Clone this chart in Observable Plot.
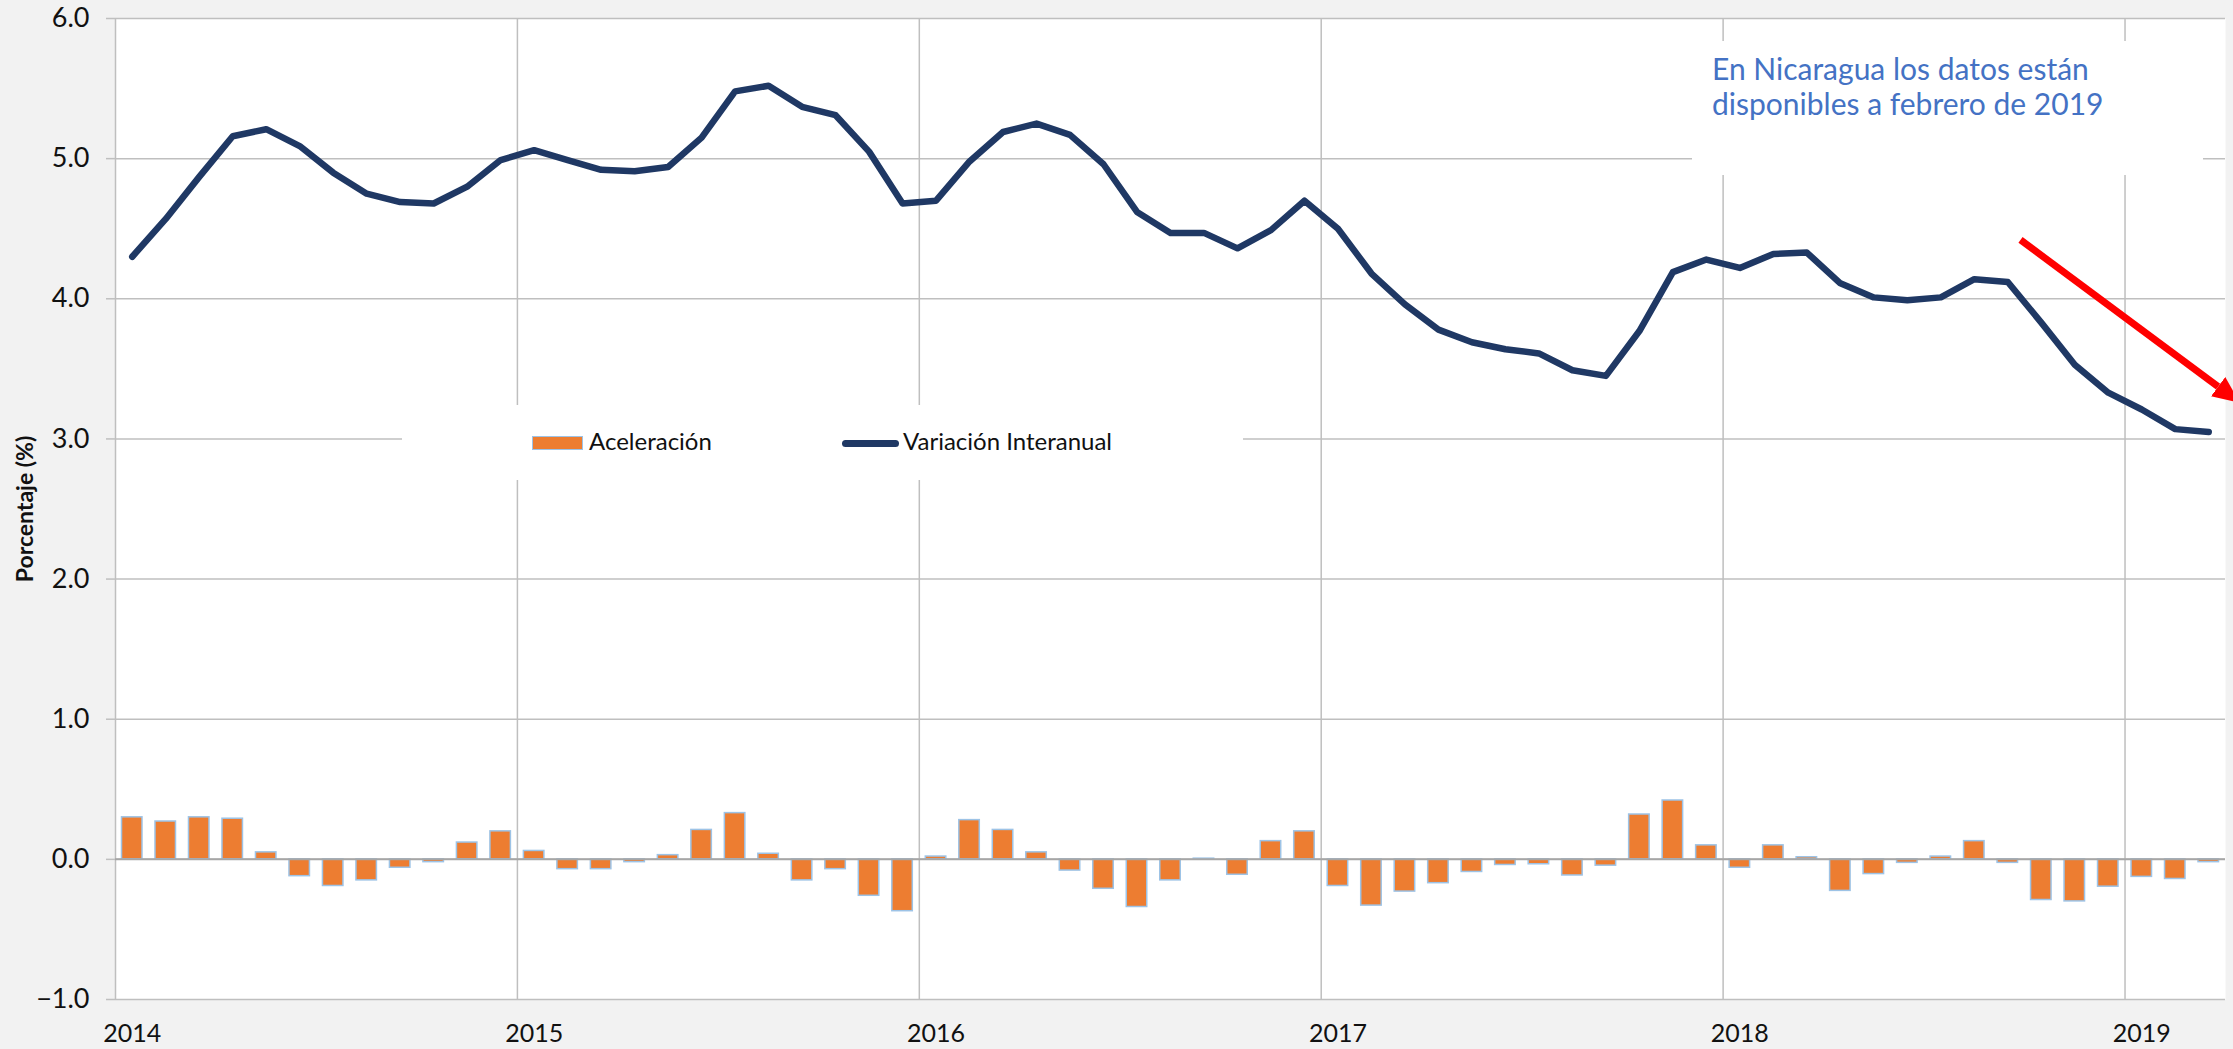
<!DOCTYPE html>
<html>
<head>
<meta charset="utf-8">
<script src="https://cdn.jsdelivr.net/npm/d3@7"></script>
<script src="https://cdn.jsdelivr.net/npm/@observablehq/plot@0.6"></script>
<style>
  html, body { margin: 0; padding: 0; background: #f2f2f2; }
  #wrap { position: relative; width: 2233px; height: 1049px; overflow: hidden; font-family: Lato, "Noto Sans", sans-serif; }
  #chart svg { display: block; }
  #legend { position: absolute; left: 402px; top: 405px; width: 841px; height: 75px; background: #fff; }
  #legend .sw-bar { position: absolute; left: 130px; top: 31px; width: 49px; height: 12px; background: #ed7d31; border: 1.5px solid #9dc3e6; }
  #legend .sw-line { position: absolute; left: 440px; top: 34.5px; width: 57px; height: 7px; background: #1f3864; border-radius: 4px; }
  #legend .lab { position: absolute; top: 22.4px; font-size: 24px; line-height: 28px; color: #111; white-space: nowrap; }
  #note { position: absolute; left: 1692px; top: 41px; width: 511px; height: 134px; background: #fff; }
  #note .txt { position: absolute; left: 20px; top: 9.5px; font-size: 30px; line-height: 35px; color: #4472c4; white-space: nowrap; }
</style>
</head>
<body>
<div id="wrap">
  <div id="chart"></div>
  <div id="legend">
    <div class="sw-bar"></div><div class="lab" id="lab1" style="left:187px"></div>
    <div class="sw-line"></div><div class="lab" id="lab2" style="left:501px"></div>
  </div>
  <div id="note"><div class="txt" id="notetxt"></div></div>
</div>
<script>
// ---- Data (monthly, Jan 2014 – Mar 2019) ----
const yearLabels = ["2014", "2015", "2016", "2017", "2018", "2019"];
const seriesNames = ["Aceleración", "Variación Interanual"];
const yAxisTitle = "Porcentaje (%)";
const noteLines = ["En Nicaragua los datos están", "disponibles a febrero de 2019"];

// Variación Interanual (%)
const variacion = [
  4.30, 4.57, 4.87, 5.16, 5.21, 5.09, 4.90, 4.75, 4.69, 4.68, 4.80, 4.99,
  5.06, 4.99, 4.92, 4.91, 4.94, 5.15, 5.48, 5.52, 5.37, 5.31, 5.05, 4.68,
  4.70, 4.98, 5.19, 5.25, 5.17, 4.96, 4.62, 4.47, 4.47, 4.36, 4.49, 4.70,
  4.50, 4.18, 3.96, 3.78, 3.69, 3.64, 3.61, 3.49, 3.45, 3.77, 4.19, 4.28,
  4.22, 4.32, 4.33, 4.11, 4.01, 3.99, 4.01, 4.14, 4.12, 3.83, 3.53, 3.33,
  3.21, 3.07, 3.05
];

// Aceleración (puntos porcentuales)
const aceleracion = [
  0.30, 0.27, 0.30, 0.29, 0.05, -0.12, -0.19, -0.15, -0.06, -0.02, 0.12, 0.20,
  0.06, -0.07, -0.07, -0.02, 0.03, 0.21, 0.33, 0.04, -0.15, -0.07, -0.26, -0.37,
  0.02, 0.28, 0.21, 0.05, -0.08, -0.21, -0.34, -0.15, 0.005, -0.11, 0.13, 0.20,
  -0.19, -0.33, -0.23, -0.17, -0.09, -0.04, -0.035, -0.115, -0.045, 0.32, 0.42, 0.10,
  -0.06, 0.10, 0.015, -0.225, -0.105, -0.025, 0.02, 0.13, -0.025, -0.29, -0.30, -0.195,
  -0.125, -0.14, -0.02
];

const yTicks = [-1, 0, 1, 2, 3, 4, 5, 6];

// Red trend arrow annotation (in month-index / percent units)
const trendArrow = [{x: 56.38, y: 4.42}, {x: 62.28, y: 3.373}];

// ---- Build table ----
const rows = variacion.map((v, i) => ({i, variacion: v, aceleracion: aceleracion[i]}));
const yearStarts = yearLabels.map((_, k) => k * 12);
const yearBounds = yearStarts.slice(1).map(s => s - 0.5);

const grid = "#bfbfbf";
const arrowRed = "#ff0000";

const chart = Plot.plot({
  width: 2233,
  height: 1049,
  marginTop: 18,
  marginBottom: 50,
  marginLeft: 115,
  marginRight: 8,
  style: {background: "#f2f2f2", fontFamily: "Lato, 'Noto Sans', sans-serif", fontSize: "24px", color: "#111"},
  x: {type: "linear", domain: [-0.5, variacion.length - 0.5], label: null},
  y: {domain: [-1, 6], label: null},
  marks: [
    Plot.frame({fill: "white", stroke: null}),
    Plot.gridY(yTicks, {stroke: grid, strokeOpacity: 1, strokeWidth: 1.5}),
    Plot.ruleX(yearBounds, {stroke: grid, strokeWidth: 1.5}),
    Plot.ruleX([-0.5], {stroke: grid, strokeWidth: 1.5}),
    Plot.rect(rows, {
      x1: d => d.i - 0.5, x2: d => d.i + 0.5, y1: 0, y2: "aceleracion",
      insetLeft: 6.5, insetRight: 6.5,
      fill: "#ed7d31", stroke: "#9dc3e6", strokeWidth: 1.5
    }),
    Plot.ruleY([0], {stroke: "#a6a6a6", strokeWidth: 2}),
    Plot.line(rows, {x: "i", y: "variacion", stroke: "#1f3864", strokeWidth: 6.5, strokeLinecap: "round", strokeLinejoin: "round"}),
    Plot.line(trendArrow, {x: "x", y: "y", stroke: arrowRed, strokeWidth: 7, strokeLinecap: "butt"}),
    Plot.axisY(yTicks, {tickFormat: d3.format(".1f"), tickSize: 9, tickPadding: 17, stroke: grid, strokeWidth: 1.5, fill: "#111", fontSize: 27, label: null}),
    Plot.axisX(yearStarts, {tickFormat: i => yearLabels[i / 12], tickSize: 0, tickPadding: 25, fill: "#111", fontSize: 25, label: null}),
    Plot.text([yAxisTitle], {frameAnchor: "left", textAnchor: "middle", dx: -90, rotate: -90, fontWeight: "bold", fontSize: 23, fill: "#111"})
  ]
});

document.getElementById("chart").appendChild(chart);

// Filled arrowhead on the red trend line
const svg = d3.select(chart);
svg.append("defs").append("marker")
  .attr("id", "redhead")
  .attr("viewBox", "0 -12 27 24")
  .attr("refX", 0).attr("refY", 0)
  .attr("markerWidth", 27).attr("markerHeight", 24)
  .attr("markerUnits", "userSpaceOnUse")
  .attr("orient", "auto")
  .append("path").attr("d", "M0,-12L27,0L0,12Z").attr("fill", arrowRed);
svg.selectAll("g").filter(function () {
  return this.getAttribute("stroke") === arrowRed;
}).selectAll("path").attr("marker-end", "url(#redhead)");
svg.selectAll("path").filter(function () {
  return this.getAttribute("stroke") === arrowRed;
}).attr("marker-end", "url(#redhead)");

document.getElementById("lab1").textContent = seriesNames[0];
document.getElementById("lab2").textContent = seriesNames[1];
document.getElementById("notetxt").innerHTML = noteLines.join("<br>");
</script>
</body>
</html>
